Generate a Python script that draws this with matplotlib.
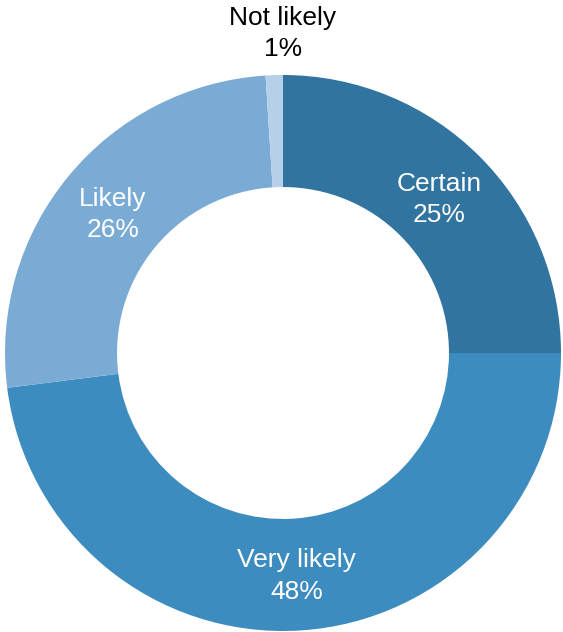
import matplotlib
matplotlib.use("Agg")
import matplotlib.pyplot as plt
import numpy as np

plt.rcParams['font.family'] = ['Liberation Sans', 'DejaVu Sans']

categories = ["Certain", "Very likely", "Likely", "Not likely"]
values = [25, 48, 26, 1]
colors = ["#31749f", "#3d8cbf", "#7aabd4", "#b7d0e9"]
label_colors = ["white", "white", "white", "black"]

W, H = 563, 632
fig = plt.figure(figsize=(W / 100, H / 100), dpi=100)
# axes box in pixels: x 5..561, y 75..631 (top-down)
left, right, top, bottom = 5, 561, 75, 631
ax = fig.add_axes([left / W, (H - bottom) / H, (right - left) / W, (bottom - top) / H])

wedges, _ = ax.pie(values, colors=colors, startangle=90, counterclock=False,
                   radius=1.0, wedgeprops=dict(width=0.403, edgecolor='none'))

total = sum(values)
dy = -0.009
for w, cat, v, lc in zip(wedges, categories, values, label_colors):
    ang = np.deg2rad((w.theta1 + w.theta2) / 2)
    pct = f"{round(v / total * 100)}%"
    if lc == "black":
        x, y = 0.0, 1.158
    else:
        x, y = 0.795 * np.cos(ang), 0.795 * np.sin(ang)
    ax.text(x, y + dy, f"{cat}\n{pct}", ha='center', va='center', color=lc,
            fontsize=19, linespacing=1.38)

ax.set_xlim(-1, 1)
ax.set_ylim(-1, 1)
ax.set_aspect('equal')
ax.axis('off')

fig.savefig("out.png", dpi=100)
